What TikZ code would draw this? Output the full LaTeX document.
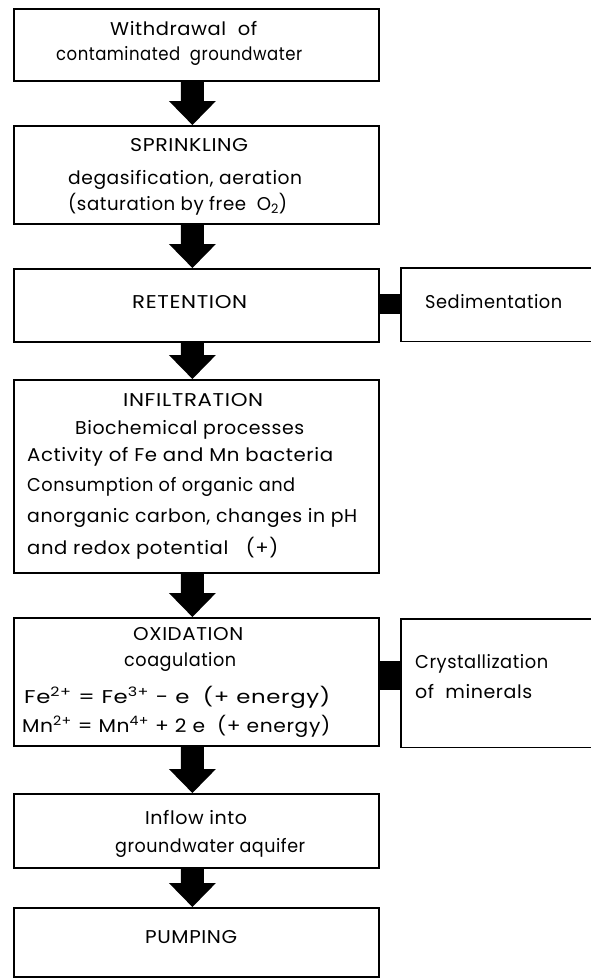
\documentclass[tikz,border=0pt]{standalone}
\usepackage{graphicx}
\usepackage{fontspec}
\setmainfont{Poppins}[LetterSpace=3]
\usetikzlibrary{calc}
\newlength\natw
\newcommand\fitw[2]{\settowidth{\natw}{#2}\scalebox{\fpeval{#1pt/\natw}}[1]{#2}}
\tikzset{
  box/.style={draw, line width=1.8pt, anchor=north west, inner sep=0pt, minimum width=365pt},
  side/.style={anchor=north west, inner sep=0pt, minimum width=192pt},
  txt/.style={anchor=west, inner sep=0pt, font=\fontsize{18.5}{21}\selectfont},
  openbox/.style={line width=1.8pt},
}
\newcommand\fatarrow[2]{\path[fill=black] let \p1=(#1.south), \p2=(#2.north) in
  (\x1-15.5pt,\y1) -- (\x1+7.5pt,\y1) -- (\x1+7.5pt,\y2+24pt) -- (\x1+19.5pt,\y2+24pt) --
  (\x1-4pt,\y2) -- (\x1-27.5pt,\y2+24pt) -- (\x1-15.5pt,\y2+24pt) -- cycle;}
\begin{document}
\begin{tikzpicture}[x=1pt,y=-1pt]
\useasboundingbox (0,0) rectangle (590,978);
% main boxes
\node[box, minimum height=72pt]  (b1) at (13,8) {};
\node[box, minimum height=98pt]  (b2) at (13,125) {};
\node[box, minimum height=73pt]  (b3) at (13,268) {};
\node[box, minimum height=193pt] (b4) at (13,379) {};
\node[box, minimum height=128pt] (b5) at (13,617) {};
\node[box, minimum height=74pt]  (b6) at (13,793) {};
\node[box, minimum height=69pt]  (b7) at (13,907) {};
% side boxes
\node[side, minimum height=73pt]  (sed) at (401,268) {};
\node[side, minimum height=128pt] (cry) at (401,619) {};
\draw[openbox] (sed.north east) -- (sed.north west) -- (sed.south west) -- (sed.south east);
\draw[openbox] (cry.north east) -- (cry.north west) -- (cry.south west) -- (cry.south east);
% connector bars
\fill ($(b3.east)+(0,-11)$) rectangle ($(sed.west)+(0,9)$);
\fill ($(b5.east)+(0,-21)$) rectangle ($(cry.west)+(0,7)$);
% arrows
\fatarrow{b1}{b2}
\fatarrow{b2}{b3}
\fatarrow{b3}{b4}
\fatarrow{b4}{b5}
\fatarrow{b5}{b6}
\fatarrow{b6}{b7}
% texts
\node[txt] (t1a) at (110,29) {\fitw{147}{Withdrawal \ of}};
\node[txt] (t1b) at (56,56) {\fitw{246}{contaminated \ groundwater}};
\node[txt] (t2a) at (130,145) {\fitw{118}{SPRINKLING}};
\node[txt] (t2b) at (68,180) {\fitw{234}{degasification, aeration}};
\node[txt] (t2c) at (68,204) {\fitw{219}{(saturation by free \ O\textsubscript{2})}};
\node[txt] (t3a) at (132,302) {\fitw{115}{RETENTION}};
\node[txt] (t3b) at (425,302) {\fitw{137}{Sedimentation}};
\node[txt] (t4a) at (123,400) {\fitw{140}{INFILTRATION}};
\node[txt] (t4b) at (75,430) {\fitw{229}{Biochemical processes}};
\node[txt] (t4c) at (27,457) {\fitw{306}{Activity of Fe and Mn bacteria}};
\node[txt] (t4d) at (27,487) {\fitw{268}{Consumption of organic and}};
\node[txt] (t4e) at (27,518) {\fitw{330}{anorganic carbon, changes in pH}};
\node[txt] (t4f) at (27,548) {\fitw{251}{and redox potential \ \ (+)}};
\node[txt] (t5a) at (133,634) {\fitw{110}{OXIDATION}};
\node[txt] (t5b) at (124,662) {\fitw{112}{coagulation}};
\node[txt] (t5c) at (24,697) {\fitw{306}{Fe\textsuperscript{2+} = Fe\textsuperscript{3+} - e \ (+ energy)}};
\node[txt] (t5d) at (22,726) {\fitw{308}{Mn\textsuperscript{2+} = Mn\textsuperscript{4+} + 2 e \ (+ energy)}};
\node[txt] (t5e) at (415,664) {\fitw{133}{Crystallization}};
\node[txt] (t5f) at (415,692) {\fitw{117}{of \ minerals}};
\node[txt] (t6a) at (145,818) {\fitw{102}{Inflow into}};
\node[txt] (t6b) at (115,848) {\fitw{190}{groundwater aquifer}};
\node[txt] (t7a) at (145,937) {\fitw{92}{PUMPING}};
\end{tikzpicture}
\end{document}
